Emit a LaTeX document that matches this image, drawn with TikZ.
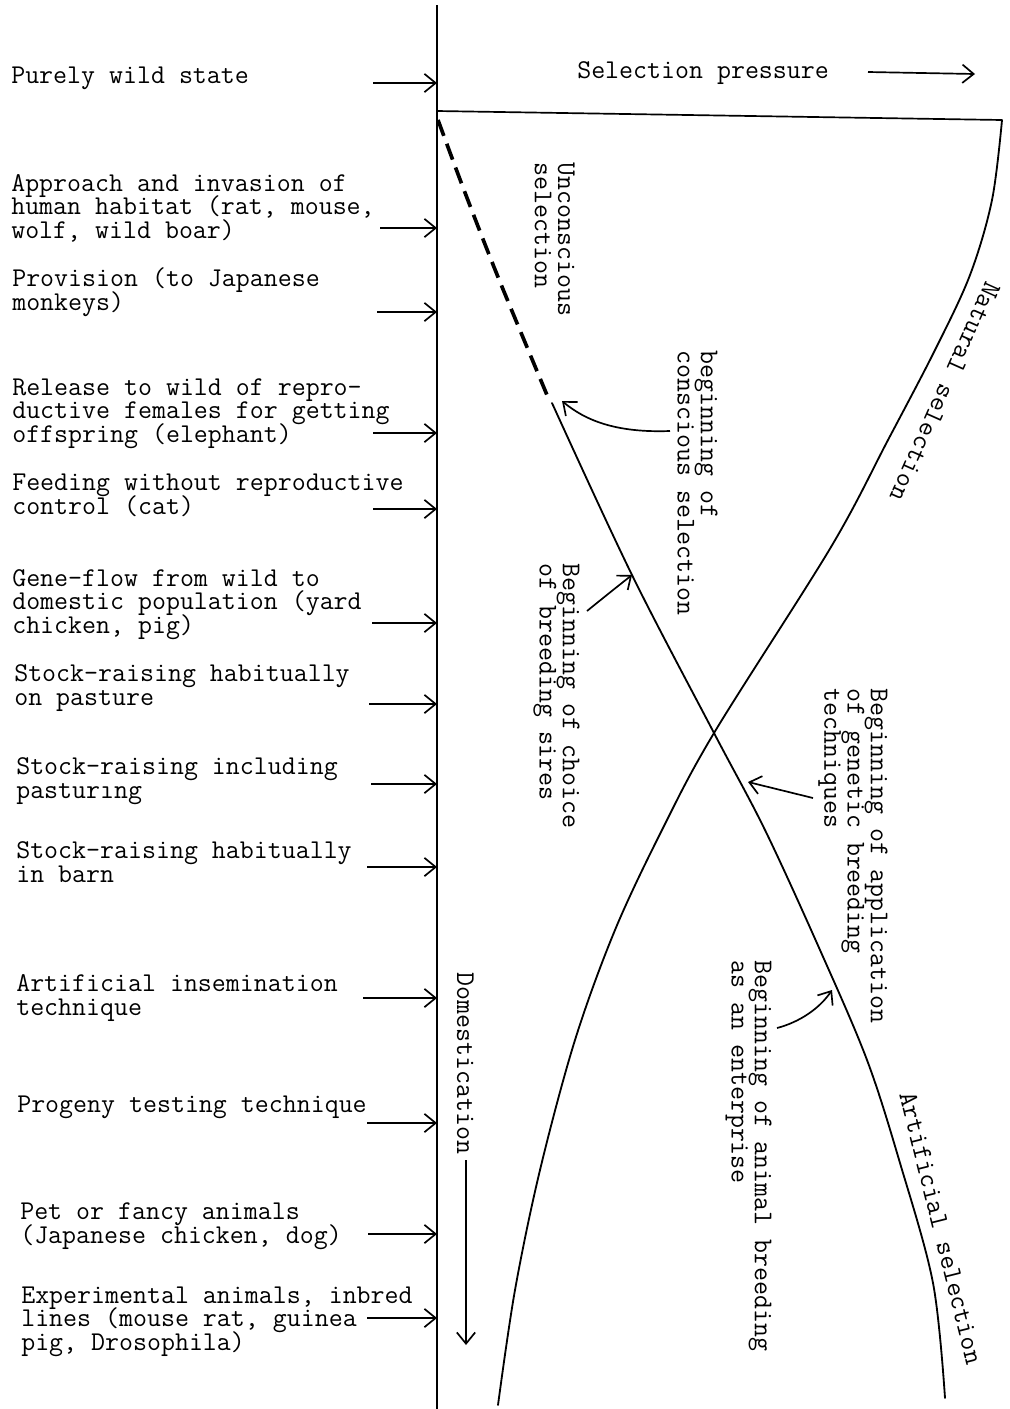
\documentclass[tikz,border=0pt]{standalone}
\usepackage{fontspec}
\usetikzlibrary{arrows.meta}
\newcommand\lblfont{\ttfamily\fontsize{19.3}{16.6}\selectfont\lineskiplimit=-20pt\relax}
\tikzset{
	lbl/.style={font=\lblfont, inner sep=0pt, align=left},
	pt/.style={line width=1.2pt, -{Straight Barb[length=8pt,width=13pt,line width=1.2pt]}},
	crv/.style={line width=1.3pt, line cap=round},
}

\begin{document}
\begin{tikzpicture}[x=0.025cm, y=-0.025cm]
		%%%%% START %%%%%
		\useasboundingbox (0,0) rectangle (1010,1409);
		
		\coordinate (top) at (437,5);
		\coordinate (bot) at (437,1409);
		\draw[line width=1.2pt] (top) -- (bot);
		\draw[line width=1.2pt] (437,111) -- (1002,120);
		
		% natural selection
		\draw[crv] plot[smooth, tension=0.55] coordinates {(1002,120) (992,200) (970,275) (935,350) (888,440) (831,547) (714,733) (662,830) (615,930) (575,1040) (540,1170) (515,1290) (498,1405)};
		% artificial selection
		\draw[line width=2.6pt, dash pattern=on 12pt off 6pt] plot[smooth] coordinates {(438,120) (464,190) (498,277) (547,395)};
		\draw[crv] plot[smooth, tension=0.55] coordinates {(552,403) (632,575) (714,733) (765,830) (820,950) (867,1060) (900,1163) (933,1283) (945,1398)};
		
		\node[lbl, anchor=base west] (sp) at (577,78) {Selection pressure};
		\coordinate (spA) at (868,72);
		\coordinate (spB) at (975,74);
		\draw[pt] (spA) -- (spB);
		
		\node[lbl, rotate=-114] (nat) at (945,392) {Natural selection};
		\node[lbl, rotate=-76] (art) at (941,1228) {Artificial selection};
		
		\node[lbl, rotate=-90, anchor=north west] (unc) at (575,162) {Unconscious\\selection};
		\node[lbl, rotate=-90, anchor=north west] (cons) at (718,350) {beginning of\\conscious selection};
		\node[lbl, rotate=-90, anchor=north west] (sires) at (580,563) {Beginning of choice\\of breeding sires};
		\node[lbl, rotate=-90, anchor=north west] (gen) at (888,688) {Beginning of application\\of genetic breeding\\techniques};
		\node[lbl, rotate=-90, anchor=north west] (ent) at (772,960) {Beginning of animal breeding\\as an enterprise};
		\node[lbl, rotate=-90, anchor=north west] (dom) at (474,972) {Domestication};
		
		\coordinate (consA) at (670,431);
		\coordinate (consB) at (562,401);
		\draw[pt] (consA) .. controls (615,433) and (585,420) .. (consB);
		\coordinate (siresA) at (587,611);
		\coordinate (siresB) at (632,575);
		\draw[pt] (siresA) .. controls (603,598) and (618,586) .. (siresB);
		\coordinate (genA) at (813,798);
		\coordinate (genB) at (748,782);
		\draw[pt] (genA) -- (genB);
		\coordinate (entA) at (777,1028);
		\coordinate (entB) at (832,990);
		\draw[pt] (entA) .. controls (800,1022) and (820,1008) .. (entB);
		\coordinate (domA) at (466,1160);
		\coordinate (domB) at (466,1345);
		\draw[pt] (domA) -- (domB);
		
		% stages (base = last line)
		\node[lbl, anchor=base west] (wild) at (11,83) {Purely wild state};
		\coordinate (wildA) at (373,83);
		\draw[pt] (wildA) -- (wildA -| top);
		
		\node[lbl, anchor=base west] (habitat) at (11,238) {Approach and invasion of\\human habitat (rat, mouse,\\wolf, wild boar)};
		\coordinate (habitatA) at (380,228);
		\draw[pt] (habitatA) -- (habitatA -| top);
		
		\node[lbl, anchor=base west] (provision) at (12,310) {Provision (to Japanese\\monkeys)};
		\coordinate (provisionA) at (377,312);
		\draw[pt] (provisionA) -- (provisionA -| top);
		
		\node[lbl, anchor=base west] (release) at (12,442) {Release to wild of repro-\\ductive females for getting\\offspring (elephant)};
		\coordinate (releaseA) at (373,433);
		\draw[pt] (releaseA) -- (releaseA -| top);
		
		\node[lbl, anchor=base west] (feeding) at (12,514) {Feeding without reproductive\\control (cat)};
		\coordinate (feedingA) at (373,509);
		\draw[pt] (feedingA) -- (feedingA -| top);
		
		\node[lbl, anchor=base west] (geneflow) at (12,633) {Gene-flow from wild to\\domestic population (yard\\chicken, pig)};
		\coordinate (geneflowA) at (372,623);
		\draw[pt] (geneflowA) -- (geneflowA -| top);
		
		\node[lbl, anchor=base west] (pasture) at (14,705) {Stock-raising habitually\\on pasture};
		\coordinate (pastureA) at (369,704);
		\draw[pt] (pastureA) -- (pastureA -| top);
		
		\node[lbl, anchor=base west] (pasturing) at (16,798) {Stock-raising including\\pasturıng};
		\coordinate (pasturingA) at (371,784);
		\draw[pt] (pasturingA) -- (pasturingA -| top);
		
		\node[lbl, anchor=base west] (barn) at (16,882) {Stock-raising habitually\\in barn};
		\coordinate (barnA) at (367,867);
		\draw[pt] (barnA) -- (barnA -| top);
		
		\node[lbl, anchor=base west] (insemination) at (16,1015) {Artificial insemination\\technique};
		\coordinate (inseminationA) at (363,998);
		\draw[pt] (inseminationA) -- (inseminationA -| top);
		
		\node[lbl, anchor=base west] (progeny) at (17,1112) {Progeny testing technique};
		\coordinate (progenyA) at (367,1123);
		\draw[pt] (progenyA) -- (progenyA -| top);
		
		\node[lbl, anchor=base west] (pet) at (20,1243) {Pet or fancy animals\\(Japanese chicken, dog)};
		\coordinate (petA) at (368,1234);
		\draw[pt] (petA) -- (petA -| top);
		
		\node[lbl, anchor=base west] (experimental) at (21,1350) {Experimental animals, inbred\\lines (mouse rat, guinea\\pig, Drosophila)};
		\coordinate (experimentalA) at (367,1318);
		\draw[pt] (experimentalA) -- (experimentalA -| top);
		
		%%%%% END %%%%%
\end{tikzpicture}
\end{document}
